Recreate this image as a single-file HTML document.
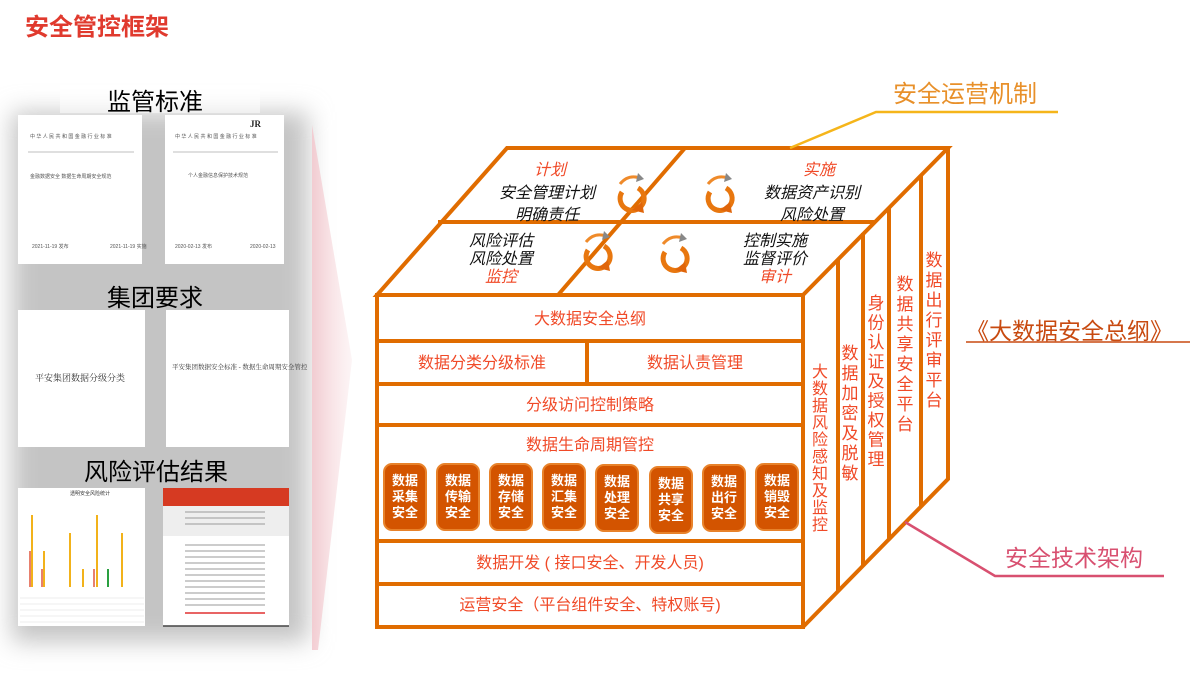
<!DOCTYPE html>
<html><head><meta charset="utf-8"><style>
html,body{margin:0;padding:0;background:#fff;}
svg{display:block;font-family:"Liberation Sans","Noto Sans CJK SC",sans-serif;}
</style></head><body>
<svg width="1200" height="676" viewBox="0 0 1200 676" xmlns="http://www.w3.org/2000/svg">
<defs>
<linearGradient id="pk" x1="0" y1="0" x2="1" y2="0">
<stop offset="0" stop-color="#f3c9cf" stop-opacity="0.9"/><stop offset="1" stop-color="#f7dde0" stop-opacity="0.3"/>
</linearGradient>
<filter id="bl" x="-20%" y="-20%" width="140%" height="140%"><feGaussianBlur stdDeviation="12"/></filter>
<g id="cyc">
<path d="M -10 -6 A 12 12 0 1 0 6 -10" fill="none" stroke="#e8770f" stroke-width="5"/>
<path d="M 0 12 L 10 4 L 12 15 Z" fill="#e0650a"/>
<path d="M -12 -14 Q -4 -24 8 -20" fill="none" stroke="#ef8a2a" stroke-width="3"/>
<path d="M 6 -25 L 12 -19 L 4 -16 Z" fill="#888"/>
</g>
</defs>

<text x="25" y="35" font-size="24" font-weight="bold" fill="#e03a2e">安全管控框架</text>

<g filter="url(#bl)">
<rect x="12" y="112" width="296" height="530" fill="#c4c4c4"/>
</g>
<rect x="60" y="85" width="200" height="28" fill="#fff" opacity="0.5"/>
<polygon points="312,125 352,360 318,650 312,650" fill="url(#pk)"/>

<text x="107" y="110" font-size="24" fill="#000">监管标准</text>
<rect x="18" y="115" width="124" height="149" fill="#fff"/>
<rect x="165" y="115" width="119" height="149" fill="#fff"/>
<g font-size="5" fill="#555">
<text x="30" y="138">中 华 人 民 共 和 国 金 融 行 业 标 准</text>
<line x1="28" y1="152" x2="134" y2="152" stroke="#aaa" stroke-width="0.7"/>
<text x="30" y="178">金融数据安全 数据生命周期安全规范</text>
<text x="32" y="248">2021-11-19 发布</text><text x="110" y="248">2021-11-19 实施</text>
<text x="250" y="127" font-size="9" font-weight="bold" fill="#222" font-family="Liberation Serif">JR</text>
<text x="175" y="138">中 华 人 民 共 和 国 金 融 行 业 标 准</text>
<line x1="173" y1="152" x2="278" y2="152" stroke="#aaa" stroke-width="0.7"/>
<text x="188" y="177">个人金融信息保护技术规范</text>
<text x="175" y="248">2020-02-13 发布</text><text x="250" y="248">2020-02-13</text>
</g>

<text x="107" y="306" font-size="24" fill="#000">集团要求</text>
<rect x="18" y="310" width="127" height="137" fill="#fff"/>
<rect x="166" y="310" width="123" height="137" fill="#fff"/>
<text x="35" y="381" font-size="9" fill="#333" font-family="Liberation Serif,Noto Serif CJK SC,serif">平安集团数据分级分类</text>
<text x="172" y="369" font-size="6.5" fill="#333" font-family="Liberation Serif,Noto Serif CJK SC,serif">平安集团数据安全标准 - 数据生命周期安全管控</text>

<text x="84" y="480" font-size="24" fill="#000">风险评估结果</text>
<rect x="18" y="488" width="127" height="138" fill="#fff"/>
<text x="70" y="495" font-size="5" fill="#333">透明安全风险统计</text>
<g stroke="#f2b21a" stroke-width="2">
<line x1="32" y1="587" x2="32" y2="515"/><line x1="44" y1="587" x2="44" y2="551"/>
<line x1="70" y1="587" x2="70" y2="533"/><line x1="83" y1="587" x2="83" y2="569"/>
<line x1="97" y1="587" x2="97" y2="515"/><line x1="122" y1="587" x2="122" y2="533"/>
</g>
<g stroke="#e8806e" stroke-width="2"><line x1="30" y1="587" x2="30" y2="551"/><line x1="42" y1="587" x2="42" y2="569"/><line x1="94" y1="587" x2="94" y2="569"/></g>
<line x1="108" y1="587" x2="108" y2="569" stroke="#2aa040" stroke-width="2"/>
<g stroke="#ddd" stroke-width="0.5"><line x1="20" y1="598" x2="144" y2="598"/><line x1="20" y1="604" x2="144" y2="604"/><line x1="20" y1="610" x2="144" y2="610"/><line x1="20" y1="616" x2="144" y2="616"/><line x1="20" y1="622" x2="144" y2="622"/></g>
<rect x="163" y="488" width="126" height="138" fill="#fff"/>
<rect x="163" y="488" width="126" height="18" fill="#d63a22"/>
<rect x="163" y="506" width="126" height="30" fill="#eee"/>
<g stroke="#999" stroke-width="1">
<line x1="185" y1="512" x2="265" y2="512"/><line x1="185" y1="518" x2="265" y2="518"/><line x1="185" y1="524" x2="265" y2="524"/>
<line x1="185" y1="545" x2="265" y2="545"/><line x1="185" y1="551" x2="265" y2="551"/><line x1="185" y1="557" x2="265" y2="557"/>
<line x1="185" y1="563" x2="265" y2="563"/><line x1="185" y1="569" x2="265" y2="569"/><line x1="185" y1="575" x2="265" y2="575"/>
<line x1="185" y1="581" x2="265" y2="581"/><line x1="185" y1="587" x2="265" y2="587"/><line x1="185" y1="593" x2="265" y2="593"/>
<line x1="185" y1="599" x2="265" y2="599"/><line x1="185" y1="605" x2="265" y2="605"/>
</g>
<line x1="185" y1="613" x2="265" y2="613" stroke="#e03030" stroke-width="1.5"/>
<line x1="163" y1="626" x2="289" y2="626" stroke="#444" stroke-width="1.5"/>

<g fill="none" stroke="#e06c00" stroke-width="4">
<polygon points="377,295 507,148 948,148 803,295"/>
<line x1="438" y1="222" x2="876" y2="222"/>
<line x1="685" y1="148" x2="558" y2="295"/>
<rect x="377" y="295" width="426" height="332"/>
<line x1="377" y1="341" x2="803" y2="341"/>
<line x1="377" y1="384" x2="803" y2="384"/>
<line x1="377" y1="425" x2="803" y2="425"/>
<line x1="377" y1="541" x2="803" y2="541"/>
<line x1="377" y1="584" x2="803" y2="584"/>
<line x1="587" y1="341" x2="587" y2="384"/>
<polyline points="948,148 948,479 803,627"/>
<line x1="838" y1="260" x2="838" y2="591"/>
<line x1="863" y1="233" x2="863" y2="566"/>
<line x1="889" y1="207" x2="889" y2="540"/>
<line x1="921" y1="175" x2="921" y2="507"/>
</g>

<g font-style="italic" font-size="16" text-anchor="middle">
<text x="550" y="175" fill="#f04a28">计划</text>
<text x="547" y="198" fill="#111">安全管理计划</text>
<text x="547" y="220" fill="#111">明确责任</text>
<text x="819" y="175" fill="#f04a28">实施</text>
<text x="812" y="198" fill="#111">数据资产识别</text>
<text x="812" y="220" fill="#111">风险处置</text>
<text x="501" y="246" fill="#111">风险评估</text>
<text x="501" y="264" fill="#111">风险处置</text>
<text x="501" y="282" fill="#f04a28">监控</text>
<text x="775" y="246" fill="#111">控制实施</text>
<text x="775" y="264" fill="#111">监督评价</text>
<text x="775" y="282" fill="#f04a28">审计</text>
</g>
<use href="#cyc" x="632" y="198"/>
<use href="#cyc" x="720" y="198"/>
<use href="#cyc" x="598" y="256"/>
<use href="#cyc" x="675" y="258"/>

<g font-size="16" fill="#f04a28" text-anchor="middle">
<text x="590" y="324">大数据安全总纲</text>
<text x="482" y="368">数据分类分级标准</text>
<text x="695" y="368">数据认责管理</text>
<text x="590" y="410">分级访问控制策略</text>
<text x="590" y="450">数据生命周期管控</text>
<text x="590" y="568">数据开发 ( 接口安全、开发人员)</text>
<text x="590" y="610">运营安全（平台组件安全、特权账号)</text>
</g>
<g font-size="13" font-weight="bold" fill="#fff" text-anchor="middle">
<g transform="translate(384,464)"><rect width="42" height="66" rx="8" fill="#d35400" stroke="#e8822a" stroke-width="2"/><text x="21" y="21">数据</text><text x="21" y="37">采集</text><text x="21" y="53">安全</text></g>
<g transform="translate(437,464)"><rect width="42" height="66" rx="8" fill="#d35400" stroke="#e8822a" stroke-width="2"/><text x="21" y="21">数据</text><text x="21" y="37">传输</text><text x="21" y="53">安全</text></g>
<g transform="translate(490,464)"><rect width="42" height="66" rx="8" fill="#d35400" stroke="#e8822a" stroke-width="2"/><text x="21" y="21">数据</text><text x="21" y="37">存储</text><text x="21" y="53">安全</text></g>
<g transform="translate(543,464)"><rect width="42" height="66" rx="8" fill="#d35400" stroke="#e8822a" stroke-width="2"/><text x="21" y="21">数据</text><text x="21" y="37">汇集</text><text x="21" y="53">安全</text></g>
<g transform="translate(596,465)"><rect width="42" height="66" rx="8" fill="#d35400" stroke="#e8822a" stroke-width="2"/><text x="21" y="21">数据</text><text x="21" y="37">处理</text><text x="21" y="53">安全</text></g>
<g transform="translate(650,467)"><rect width="42" height="66" rx="8" fill="#d35400" stroke="#e8822a" stroke-width="2"/><text x="21" y="21">数据</text><text x="21" y="37">共享</text><text x="21" y="53">安全</text></g>
<g transform="translate(703,465)"><rect width="42" height="66" rx="8" fill="#d35400" stroke="#e8822a" stroke-width="2"/><text x="21" y="21">数据</text><text x="21" y="37">出行</text><text x="21" y="53">安全</text></g>
<g transform="translate(756,464)"><rect width="42" height="66" rx="8" fill="#d35400" stroke="#e8822a" stroke-width="2"/><text x="21" y="21">数据</text><text x="21" y="37">销毁</text><text x="21" y="53">安全</text></g>
</g>

<g font-size="17" fill="#f04a28" text-anchor="middle">
<g transform="translate(820,377)" font-size="16"><text y="0">大</text><text y="17">数</text><text y="34">据</text><text y="51">风</text><text y="68">险</text><text y="85">感</text><text y="102">知</text><text y="119">及</text><text y="136">监</text><text y="153">控</text></g>
<g transform="translate(850,359)"><text y="0">数</text><text y="20">据</text><text y="40">加</text><text y="60">密</text><text y="80">及</text><text y="100">脱</text><text y="120">敏</text></g>
<g transform="translate(876,309)"><text y="0">身</text><text y="19.5">份</text><text y="39">认</text><text y="58.5">证</text><text y="78">及</text><text y="97.5">授</text><text y="117">权</text><text y="136.5">管</text><text y="156">理</text></g>
<g transform="translate(905,290)"><text y="0">数</text><text y="20">据</text><text y="40">共</text><text y="60">享</text><text y="80">安</text><text y="100">全</text><text y="120">平</text><text y="140">台</text></g>
<g transform="translate(934,266)"><text y="0">数</text><text y="20">据</text><text y="40">出</text><text y="60">行</text><text y="80">评</text><text y="100">审</text><text y="120">平</text><text y="140">台</text></g>
</g>

<polyline points="790,148 876,112 1058,112" fill="none" stroke="#f5b51a" stroke-width="2.5"/>
<text x="893" y="102" font-size="24" fill="#e8902a">安全运营机制</text>
<text x="966" y="339" font-size="23" fill="#c84a10">《大数据安全总纲》</text>
<line x1="966" y1="342" x2="1190" y2="342" stroke="#c84a10" stroke-width="1.5"/>
<polyline points="905,522 995,576 1164,576" fill="none" stroke="#d85070" stroke-width="2.5"/>
<text x="1005" y="566" font-size="23" fill="#d85070">安全技术架构</text>
</svg>
</body></html>
